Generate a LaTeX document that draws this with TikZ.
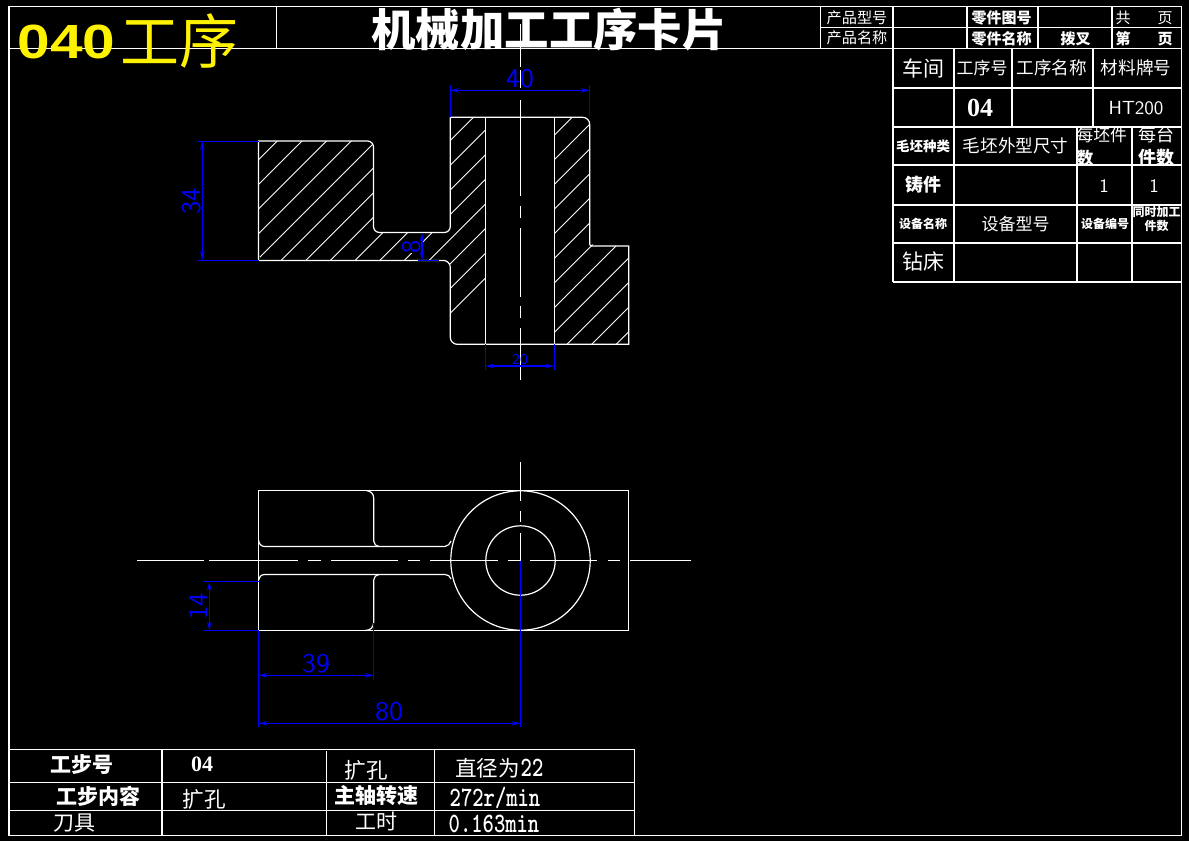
\documentclass[tikz,border=0pt]{standalone}
\usepackage{fontspec}
\usepackage{amsmath}
\usetikzlibrary{arrows.meta}

\newfontfamily\cjk{Noto Sans CJK SC}
\newfontfamily\wide{Liberation Sans}
\newfontfamily\ser{Liberation Serif}
\newcommand{\fs}[1]{\fontsize{#1}{#1}\selectfont}
\newcommand{\sx}[2]{\scalebox{#1}[1]{#2}}

\tikzset{
    part/.style={white, line width=0.6pt},
    grid/.style={white, line width=0.6pt},
    hatch/.style={white, line width=0.45pt},
    dim/.style={blue, line width=0.6pt, {Stealth[length=4.5pt,width=2.2pt]}-{Stealth[length=4.5pt,width=2.2pt]}},
    ext/.style={blue, line width=0.45pt},
    extb/.style={blue, line width=0.9pt},
    dimtext/.style={blue, inner sep=0pt, font=\sffamily\fs{13.5}},
    lab/.style={white, inner sep=0pt, font=\cjk\bfseries\fs{#1}},
    lab/.default=8,
    labn/.style={white, inner sep=0pt, font=\cjk\fs{#1}},
    thin lab/.style={white, inner sep=0pt, font=\sffamily\fs{#1}},
    ascii/.style={white, inner sep=0pt, font=\ttfamily\bfseries\fs{#1}},
}

\begin{document}
\begin{tikzpicture}[x=0.5pt, y=-0.5pt]
        \fill[black] (0, 0) rectangle (1189, 841);
        \useasboundingbox (0, 0) rectangle (1189, 841);

        \coordinate (TL) at (9, 6.3); % Frame corners
        \coordinate (BR) at (1181.7, 835.3);
        \coordinate (C) at (520.5, 560.5); % Centre of the two circles
        \coordinate (H1) at (485.3, 117.3); % Hole in the section
        \coordinate (H2) at (554.3, 344.3);

        % frame and title bar
        \draw[grid] (TL) rectangle (BR);
        \begin{scope}[grid]
            \draw (9, 48.3) -- (1181.7, 48.3);
            \draw (276.5, 6.3) -- (276.5, 48.3);
            \draw (820.7, 6.3) -- (820.7, 48.3);
            \draw (820.7, 27.5) -- (1181.7, 27.5);
            \foreach \x in {893, 967, 1038, 1112} {
                \draw (\x, 6.3) -- (\x, 48.3);
            }
        \end{scope}

        % table on the right
        \begin{scope}[grid]
            \foreach \y in {88, 127, 165, 205, 243, 282} {
                \draw (893, \y) -- (1181.7, \y);
            }
            \draw (893, 48.3) -- (893, 282);
            \draw (954, 48.3) -- (954, 282);
            \draw (1012, 48.3) -- (1012, 127);
            \draw (1093, 48.3) -- (1093, 127);
            \draw (1077, 127) -- (1077, 282);
            \draw (1132, 127) -- (1132, 282);
        \end{scope}

        % table at the bottom
        \begin{scope}[grid]
            \draw (9, 749.3) -- (634.6, 749.3);
            \draw (9, 782.3) -- (634.6, 782.3);
            \draw (9, 810.3) -- (634.6, 810.3);
            \draw (634.6, 749.3) -- (634.6, 835.3);
            \draw (162, 749.3) -- (162, 835.3);
            \draw (326.5, 751) -- (326.5, 835.3);
            \draw (434.7, 749.3) -- (434.7, 835.3);
        \end{scope}

        % hatching of the section
        \begin{scope}
            \clip (258.5, 141) [rounded corners=3pt] -- (373.5, 141) -- (373.5, 232.5)
                -- (450.3, 232.5) [sharp corners] -- (450.3, 117.3) -- (485.3, 117.3) -- (485.3, 344.3)
                [rounded corners=3.5pt] -- (450.3, 344.3) -- (450.3, 260.4) -- (258.5, 260.4) [sharp corners] -- cycle;
            \foreach \k in {-1, ..., 14} {
                \pgfmathsetmacro{\c}{418.3 + 24.65 * \k}
                \draw[hatch] (\c - 100, 100) -- (\c - 400, 400);
            }
        \end{scope}
        \begin{scope}
            \clip (554.3, 117.3) -- (628.7, 117.3) -- (628.7, 344.3) -- (554.3, 344.3) -- cycle;
            \clip (554.3, 100) [rounded corners=3.5pt] -- (554.3, 117.3) -- (589.7, 117.3) -- (589.7, 246)
                [sharp corners] -- (640, 246) -- (640, 360) -- (540, 360) -- cycle;
            \foreach \k in {4, ..., 24} {
                \pgfmathsetmacro{\c}{418.3 + 24.65 * \k}
                \draw[hatch] (\c - 100, 100) -- (\c - 400, 400);
            }
        \end{scope}

        % the 8 stands in a gap of the hatching
        \node[dimtext, rotate=90, fill=black] (d8) at (411.7, 246.7) {8};

        % outline of the section
        \begin{scope}[part]
            \draw (258.5, 260.4) -- (258.5, 141) [rounded corners=3pt] -- (373.5, 141) -- (373.5, 232.5)
                -- (450.3, 232.5) [sharp corners] -- (450.3, 117.3);
            \draw (450.3, 117.3) [rounded corners=3.5pt] -- (589.7, 117.3) [rounded corners=1pt] -- (589.7, 246)
                [sharp corners] -- (628.7, 246) -- (628.7, 344.3) [rounded corners=3.5pt] -- (450.3, 344.3)
                -- (450.3, 260.4) -- (258.5, 260.4);
            \draw (H1) -- (H1 |- H2);
            \draw (H2 |- H1) -- (H2);
        \end{scope}

        % centre lines
        \begin{scope}[part]
            \draw (520.5, 24) -- (520.5, 67);
            \draw (520.5, 70) -- (520.5, 88);
            \draw (520.5, 100) -- (520.5, 196);
            \draw (520.5, 206) -- (520.5, 218);
            \draw (520.5, 228) -- (520.5, 297);
            \draw (520.5, 306) -- (520.5, 318);
            \draw (520.5, 328) -- (520.5, 380);
            \draw (137, 560.5) -- (204, 560.5);
            \draw (209, 560.5) -- (298, 560.5);
            \draw (308, 560.5) -- (321, 560.5);
            \draw (331, 560.5) -- (398, 560.5);
            \draw (408, 560.5) -- (420, 560.5);
            \draw (430, 560.5) -- (498, 560.5);
            \draw (508, 560.5) -- (520, 560.5);
            \draw (530, 560.5) -- (597, 560.5);
            \draw (608, 560.5) -- (620, 560.5);
            \draw (630, 560.5) -- (691, 560.5);
            \draw (520.5, 462) -- (520.5, 501);
            \draw (520.5, 511) -- (520.5, 522);
            \draw (520.5, 533) -- (C);
        \end{scope}

        % lower view
        \begin{scope}[part]
            \draw (258.5, 490.5) rectangle (628.5, 630.5);
            \draw (C) circle[radius=69.7];
            \draw (C) circle[radius=34.7];
            \draw (366, 490.5) .. controls (371, 491) and (373.7, 494) .. (373.7, 498) -- (373.7, 541)
                .. controls (374, 544) and (376, 546.5) .. (379, 546.5);
            \draw (258.5, 540) .. controls (259, 544) and (261, 546.5) .. (265, 546.5) -- (445, 546.5)
                .. controls (448, 546) and (450, 544) .. (451, 541);
            \draw (258.5, 580) .. controls (259, 577) and (261, 574.5) .. (265, 574.5) -- (445, 574.5)
                .. controls (448, 574.5) and (450, 576) .. (451, 579);
            \draw (379, 574.5) .. controls (376, 574.5) and (374, 577) .. (373.7, 580) -- (373.7, 622)
                .. controls (373.5, 627) and (371, 630.5) .. (365, 630.5);
        \end{scope}

        % dimensions of the section
        \draw[ext] (197, 141) -- (258.5, 141);
        \draw[extb] (197, 260.4) -- (258.5, 260.4);
        \draw[dim] (202.3, 141) -- (202.3, 260.4);
        \node[dimtext, rotate=90] (d34) at (192, 201) {34};

        \draw[ext] (450.3, 85) -- (450.3, 117.3);
        \draw[ext] (589.7, 85) -- (589.7, 117.3);
        \draw[dim] (450.3, 90.3) -- (589.7, 90.3);
        \node[dimtext] (d40) at (520, 79) {\sx{1.05}{40}};

        \draw[extb] (418, 260.4) -- (439, 260.4);
        \draw[dim] (422, 232.5) -- (422, 260.4);

        \draw[ext] (485.3, 344.3) -- (485.3, 370);
        \draw[ext] (554.3, 344.3) -- (554.3, 370);
        \draw[dim] (485.3, 366) -- (554.3, 366);
        \node[dimtext, font=\sffamily\fs{7.5}] (d20) at (520, 360) {20};

        % dimensions of the lower view
        \draw[ext] (204, 581.7) -- (258.5, 581.7);
        \draw[extb] (204, 630.5) -- (258.5, 630.5);
        \draw[dim] (209.3, 581.7) -- (209.3, 630.5);
        \node[dimtext, rotate=90] (d14) at (198, 606.5) {14};

        \draw[ext] (373.7, 623) -- (373.7, 680);
        \draw[dim] (258.5, 675.3) -- (373.7, 675.3);
        \node[dimtext] (d39) at (316, 664) {\sx{1.05}{39}};

        \draw[extb] (258.5, 630.5) -- (258.5, 727.3);
        \draw[extb] (C) -- (520.5, 727.3);
        \draw[dim] (258.5, 723.3) -- (520.5, 723.3);
        \node[dimtext] (d80) at (389, 711.7) {\sx{1.05}{80}};

        % big titles
        \node[yellow, inner sep=0pt, font=\wide\bfseries\fs{24}] (opno) at (66.5, 42) {\sx{1.22}{040}};
        \node[yellow, inner sep=0pt, font=\cjk\fs{29.5}] (opname) at (179.5, 41) {工序};
        \node[lab=22.2] (title) at (549, 30) {机械加工工序卡片};

        % title bar texts
        \node[labn=7.6] (t1) at (857, 17.3) {产品型号};
        \node[labn=7.6] (t2) at (857, 38) {产品名称};
        \node[lab=7.5] (t3) at (1001.7, 17.5) {零件图号};
        \node[lab=7.5] (t4) at (1001.7, 38.5) {零件名称};
        \node[lab=7.5] (t5) at (1075.7, 39) {拨叉};
        \node[labn=7.5] (t6) at (1123, 18) {共};
        \node[labn=7.5] (t7) at (1165, 18) {页};
        \node[lab=7.5] (t8) at (1123, 39) {第};
        \node[lab=7.5] (t9) at (1165, 39) {页};

        % right table texts
        \node[labn=10.5] (r1) at (923, 68) {车间};
        \node[labn=8.5] (r2) at (982, 68) {工序号};
        \node[labn=8.8] (r3) at (1051.7, 68) {工序名称};
        \node[labn=8.8] (r4) at (1136, 68) {材料牌号};
        \node[white, inner sep=0pt, font=\ser\bfseries\fs{13}] (r5) at (980, 107.5) {04};
        \node[thin lab=9.5] (r6) at (1136, 108) {HT200};
        \node[lab=6.75] (r7) at (923, 146.7) {毛坯种类};
        \node[labn=8.8] (r8) at (1015.7, 145.7) {毛坯外型尺寸};
        \node[labn=8.4] (r9) at (1101.7, 135) {每坯件};
        \node[lab=8.4] (r10) at (1085, 158) {数};
        \node[labn=9] (r11) at (1156.7, 135) {每台};
        \node[lab=9] (r12) at (1156.7, 158) {件数};
        \node[lab=9] (r13) at (923, 185) {铸件};
        \node[thin lab=9.5] (r14) at (1104, 186) {1};
        \node[thin lab=9.5] (r15) at (1154, 186) {1};
        \node[lab=6] (r16) at (923, 224) {设备名称};
        \node[labn=8.5] (r17) at (1015.7, 224) {设备型号};
        \node[lab=6] (r18) at (1105, 224) {设备编号};
        \node[lab=6] (r19) at (1156.7, 212) {同时加工};
        \node[lab=6] (r20) at (1156.7, 226) {件数};
        \node[labn=10.5] (r21) at (923, 261) {钻床};

        % bottom table texts
        \node[lab=10.5] (b1) at (82, 765) {工步号};
        \node[white, inner sep=0pt, font=\ser\bfseries\fs{11}] (b2) at (202, 764) {04};
        \node[labn=10.8] (b3) at (366, 770) {扩孔};
        \node[labn=10.8] (b4) at (487.5, 768) {直径为};
        \node[ascii=14] (b5) at (532, 768) {\sx{.77}{22}};
        \node[lab=10.5] (b6) at (98, 796) {工步内容};
        \node[labn=10.8] (b7) at (204, 799) {扩孔};
        \node[lab=10.5] (b8) at (376, 796) {主轴转速};
        \node[ascii=14] (b9) at (495, 798) {\sx{.77}{272r/min}};
        \node[labn=10.5] (b10) at (75, 823) {刀具};
        \node[labn=10.5] (b11) at (376, 821) {工时};
        \node[ascii=14] (b12) at (494, 824) {\sx{.77}{0.163min}};
\end{tikzpicture}
\end{document}
